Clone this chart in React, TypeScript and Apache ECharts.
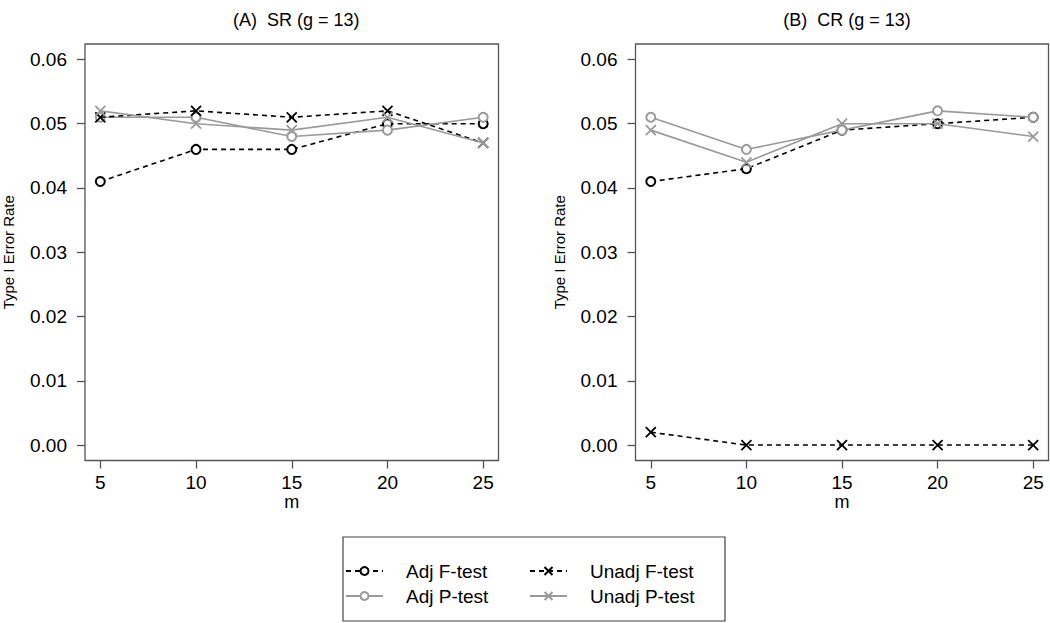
import React, { useEffect, useRef } from "react";
import * as echarts from "echarts";

const mValues = [5, 10, 15, 20, 25];
const xTicks = [5, 10, 15, 20, 25];
const yTicks = [0, 0.01, 0.02, 0.03, 0.04, 0.05, 0.06];
const panelTitles = ["(A)  SR (g = 13)", "(B)  CR (g = 13)"];
const seriesNames = ["Adj F-test", "Adj P-test", "Unadj F-test", "Unadj P-test"];
const yAxisTitle = "Type I Error Rate";
const xAxisTitle = "m";

// Panel A: SR
const srAdjF = [0.041, 0.046, 0.046, 0.05, 0.05];
const srAdjP = [0.051, 0.051, 0.048, 0.049, 0.051];
const srUnadjF = [0.051, 0.052, 0.051, 0.052, 0.047];
const srUnadjP = [0.052, 0.05, 0.049, 0.051, 0.047];

// Panel B: CR
const crAdjF = [0.041, 0.043, 0.049, 0.05, 0.051];
const crAdjP = [0.051, 0.046, 0.049, 0.052, 0.051];
const crUnadjF = [0.002, 0, 0, 0, 0];
const crUnadjP = [0.049, 0.044, 0.05, 0.05, 0.048];

const FONT = "'Liberation Sans', Arial, Helvetica, sans-serif";
const GRAY = "#9a9a9a";
const BLACK = "#000000";
const BOX = "#555555";
const CROSS = "path://M0,0L10,10M10,0L0,10";

const styleFor = (idx: number) => {
  const isF = idx === 0 || idx === 2;
  const isCircle = idx === 0 || idx === 1;
  const color = isF ? BLACK : GRAY;
  return {
    color,
    lineStyle: { color, width: 1.6, type: isF ? [5, 4] : "solid" },
    symbol: isCircle ? "emptyCircle" : CROSS,
    symbolSize: isCircle ? 9 : 10,
    itemStyle: isCircle
      ? { color, borderColor: color, borderWidth: 1.6 }
      : { color: "transparent", borderColor: color, borderWidth: 1.8 },
  };
};

export default function App() {
  const ref = useRef<HTMLDivElement>(null);
  useEffect(() => {
    if (!ref.current) return;
    const chart = echarts.init(ref.current, undefined, { renderer: "svg" });
    const grids = [
      { left: 84, top: 44, width: 414.5, height: 416.5 },
      { left: 635.5, top: 44, width: 413, height: 416.5 },
    ];
    const panels = [
      [srAdjF, srAdjP, srUnadjF, srUnadjP],
      [crAdjF, crAdjP, crUnadjF, crUnadjP],
    ];
    const series: any[] = [];
    panels.forEach((arrs, p) => {
      arrs.forEach((arr, s) => {
        const st = styleFor(s);
        series.push({
          type: "line",
          name: seriesNames[s],
          xAxisIndex: p,
          yAxisIndex: p,
          data: mValues.map((m, i) => [m, arr[i]]),
          showAllSymbol: true,
          z: 2 + s,
          ...st,
        });
      });
    });
    const option: any = {
      animation: false,
      backgroundColor: "#ffffff",
      textStyle: { fontFamily: FONT },
      title: panelTitles.map((t, i) => ({
        text: t,
        left: grids[i].left + grids[i].width / 2,
        top: 6,
        textAlign: "center",
        textStyle: { fontFamily: FONT, fontSize: 18, fontWeight: "normal", color: "#000" },
      })),
      grid: grids.map((g) => ({ ...g, show: true, borderColor: BOX, borderWidth: 1.3, backgroundColor: "transparent" })),
      xAxis: grids.map((_, i) => ({
        type: "value",
        gridIndex: i,
        min: 4.2,
        max: 25.8,
        name: xAxisTitle,
        nameLocation: "middle",
        nameGap: 32,
        nameMoveOverlap: false,
        nameTextStyle: { fontFamily: FONT, fontSize: 18, color: "#000" },
        axisLine: { show: false, onZero: false },
        splitLine: { show: false },
        axisTick: { show: true, customValues: xTicks, length: 8, inside: false, lineStyle: { color: BOX, width: 1.3 } },
        axisLabel: { show: true, customValues: xTicks, margin: 12, fontSize: 19, fontFamily: FONT, color: "#000" },
      })),
      yAxis: grids.map((_, i) => ({
        type: "value",
        gridIndex: i,
        min: -0.0024,
        max: 0.0624,
        name: yAxisTitle,
        nameLocation: "middle",
        nameRotate: 90,
        nameGap: 69,
        nameMoveOverlap: false,
        nameTextStyle: { fontFamily: FONT, fontSize: 15, color: "#000" },
        axisLine: { show: false, onZero: false },
        splitLine: { show: false },
        axisTick: { show: true, customValues: yTicks, length: 8, inside: false, lineStyle: { color: BOX, width: 1.3 } },
        axisLabel: {
          show: true,
          customValues: yTicks,
          margin: 18,
          fontSize: 19,
          fontFamily: FONT,
          color: "#000",
          formatter: (v: number) => v.toFixed(2),
        },
      })),
      legend: [
        { data: [seriesNames[0], seriesNames[1]], left: 345 },
        { data: [seriesNames[2], seriesNames[3]], left: 529 },
      ].map((l) => ({
        ...l,
        orient: "vertical",
        top: 561,
        padding: 0,
        itemWidth: 37,
        itemHeight: 10,
        itemGap: 5,
        selectedMode: false,
        textStyle: { fontFamily: FONT, fontSize: 19, lineHeight: 20, color: "#000", padding: [0, 0, 0, 18] },
      })),
      graphic: [
        {
          type: "rect",
          shape: { x: 343, y: 537, width: 382, height: 84 },
          style: { fill: "none", stroke: "#444", lineWidth: 1.2 },
          silent: true,
        },
      ],
      series,
    };
    chart.setOption(option);
    return () => chart.dispose();
  }, []);
  return (
    <div
      ref={ref}
      style={{ position: "fixed", left: 0, top: 0, width: 1050, height: 623, background: "#fff" }}
    />
  );
}
